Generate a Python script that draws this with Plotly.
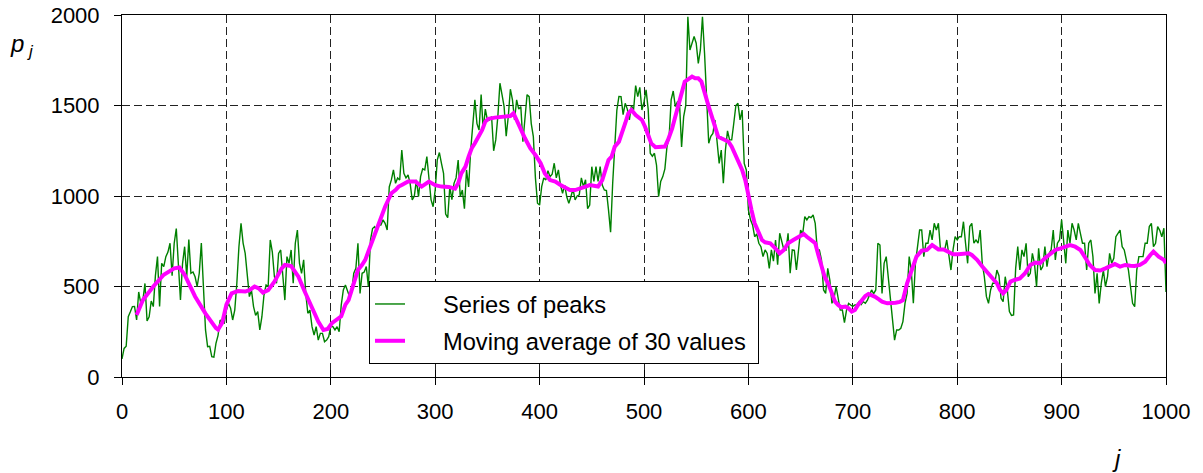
import plotly.graph_objects as go

# ---- data ----
peak_j = list(range(0, 1001, 2))
peaks = [
    # 0 .. 98
    100, 158, 170, 333, 360, 389, 390, 315, 470, 407, 425, 517, 310, 333, 420, 389, 560, 665, 390, 628,
    610, 665, 690, 739, 560, 739, 820, 628, 425, 628, 720, 554, 760, 573, 580, 554, 500, 573, 740, 499,
    260, 168, 170, 112, 110, 186, 230, 315, 300, 297,
    # 100 .. 198
    370, 407, 380, 315, 370, 518, 720, 849, 740, 683, 580, 444, 480, 389, 340, 361, 260, 333, 453, 508,
    500, 757, 690, 554, 518, 683, 702, 554, 425, 665, 628, 702, 518, 739, 812, 628, 573, 647, 462, 352,
    370, 278, 232, 278, 204, 241, 241, 195, 204, 223,
    # 200 .. 298
    280, 278, 260, 278, 250, 398, 481, 508, 470, 444, 472, 573, 600, 739, 462, 573, 580, 610, 499, 757,
    820, 831, 805, 840, 840, 868, 849, 812, 1050, 1089, 1144, 1070, 1100, 1089, 1254, 1125, 1100, 1116, 1070, 978,
    1000, 1089, 996, 1107, 1150, 1144, 1218, 1089, 980, 941,
    # 300 .. 398
    1033, 1200, 1240, 1180, 1125, 900, 880, 1052, 980, 1070, 1100, 1199, 996, 1033, 930, 1144, 1050, 1254, 1383, 1531,
    1400, 1365, 1560, 1365, 1480, 1420, 1420, 1439, 1250, 1310, 1440, 1623, 1560, 1494, 1330, 1439, 1590, 1531, 1420, 1531,
    1480, 1494, 1300, 1439, 1560, 1549, 1400, 1328, 1100, 960,
    # 400 .. 498
    950, 1052, 1100, 1089, 1140, 1107, 1120, 1181, 1100, 1144, 1060, 1015, 1060, 996, 960, 996, 1040, 978, 1000, 1006,
    1100, 1052, 1090, 930, 950, 1162, 1080, 1162, 1080, 1162, 1060, 1033, 1030, 923, 800, 1070, 1260, 1475, 1550, 1549,
    1450, 1512, 1480, 1420, 1500, 1475, 1610, 1549, 1600, 1475,
    # 500 .. 598
    1520, 1586, 1480, 1236, 1220, 1236, 1170, 996, 1080, 1107, 1150, 1273, 1320, 1531, 1580, 1494, 1520, 1512, 1271, 1439,
    1500, 1990, 1807, 1844, 1881, 1844, 1733, 1807, 1990, 1789, 1567, 1291, 1330, 1346, 1420, 1291, 1180, 1254, 1070, 1254,
    1360, 1310, 1310, 1402, 1500, 1512, 1420, 1475, 1180, 1144,
    # 600 .. 698
    923, 868, 840, 775, 790, 739, 720, 665, 702, 683, 600, 702, 640, 757, 620, 794, 739, 702, 700, 794,
    573, 702, 700, 591, 700, 812, 790, 886, 868, 886, 880, 895, 849, 702, 702, 647, 481, 462, 600, 536,
    407, 435, 500, 444, 370, 370, 300, 370, 407, 398,
    # 700 .. 798
    390, 398, 400, 416, 400, 416, 407, 425, 450, 481, 460, 481, 739, 729, 462, 628, 665, 554, 407, 297,
    204, 260, 260, 269, 306, 407, 462, 665, 591, 407, 628, 720, 812, 812, 665, 739, 739, 812, 757, 849,
    812, 849, 702, 702, 702, 757, 665, 591, 702, 775,
    # 800 .. 898
    757, 775, 775, 858, 739, 628, 831, 849, 739, 757, 739, 812, 628, 554, 444, 407, 481, 518, 518, 591,
    560, 435, 416, 554, 481, 361, 340, 343, 600, 720, 591, 702, 665, 739, 554, 573, 683, 628, 499, 711,
    591, 610, 720, 610, 683, 702, 812, 647, 739, 757,
    # 900 .. 998
    868, 739, 628, 812, 739, 849, 812, 757, 849, 794, 739, 739, 591, 739, 757, 665, 462, 573, 407, 518,
    591, 499, 554, 683, 628, 656, 775, 794, 812, 720, 702, 647, 591, 499, 407, 389, 591, 665, 665, 665,
    739, 739, 831, 849, 720, 739, 831, 810, 775, 822,
    # 1000
    470,
]

ma_j = [
    14, 20, 30, 40, 50, 55, 60, 70, 80, 85, 90, 92, 96, 100, 105, 111, 118, 122, 127, 131, 135, 140, 146, 153, 156, 162, 169,
    175, 181, 188, 193, 197, 201, 207, 210, 214, 217, 220, 223, 226, 230, 233, 236, 239, 242, 246, 249, 252, 255, 258, 262,
    265, 268, 271, 274, 281, 287, 294, 300, 306, 313, 319, 322, 325, 329, 332, 335, 338, 341, 345, 348, 351, 357, 364, 369,
    372, 375, 378, 381, 386, 391, 396, 401, 405, 410, 415, 420, 424, 429, 434, 439, 444, 448, 453, 456, 460, 463, 466, 469,
    472, 476, 479, 482, 485, 488, 492, 495, 498, 501, 504, 507, 511, 515, 520, 523, 527, 530, 533, 536, 539, 543, 546, 549,
    552, 555, 558, 562, 565, 568, 571, 574, 578, 581, 584, 587, 590, 594, 597, 600, 603, 606, 610, 613, 616, 621, 626, 630,
    634, 638, 643, 648, 653, 656, 661, 664, 667, 670, 673, 677, 680, 683, 686, 689, 693, 696, 699, 702, 705, 709, 712, 715,
    718, 721, 725, 728, 733, 737, 741, 745, 748, 752, 756, 761, 766, 771, 776, 779, 782, 787, 792, 796, 801, 806, 811, 814,
    819, 824, 828, 833, 838, 841, 844, 847, 851, 855, 860, 865, 870, 875, 879, 884, 889, 894, 899, 903, 908, 913, 918, 923,
    927, 932, 937, 942, 946, 951, 956, 961, 966, 970, 975, 980, 985, 988, 993, 998, 1000,
]
ma_values = [
    343, 425, 500, 565, 600, 605, 565, 445, 350, 305, 270, 262, 300, 400, 462, 475, 472, 480, 500, 490, 466, 480, 527, 600, 619, 613, 554,
    472, 389, 306, 260, 265, 297, 324, 335, 400, 425, 480, 536, 591, 620, 647, 693, 739, 794, 849, 904, 941, 978, 1015, 1033,
    1052, 1061, 1070, 1080, 1080, 1052, 1080, 1060, 1052, 1050, 1040, 1070, 1125, 1162, 1218, 1264, 1291, 1319, 1365, 1411, 1426, 1433, 1435, 1439,
    1442, 1457, 1420, 1374, 1319, 1264, 1227, 1181, 1125, 1088, 1080, 1061, 1046, 1033, 1033, 1040, 1052, 1060, 1052, 1052, 1088, 1144, 1199, 1218,
    1273, 1300, 1346, 1402, 1457, 1475, 1447, 1436, 1420, 1383, 1337, 1291, 1269, 1269, 1273, 1310, 1374, 1439, 1494, 1567, 1632, 1650, 1660, 1650,
    1650, 1632, 1567, 1494, 1439, 1374, 1328, 1319, 1310, 1300, 1273, 1236, 1199, 1144, 1088, 996, 922, 849, 794, 757, 744, 739, 710, 683,
    702, 739, 757, 775, 790, 775, 748, 739, 674, 610, 554, 508, 453, 416, 398, 385, 389, 379, 361, 370, 398, 425, 448, 459,
    453, 444, 429, 416, 407, 407, 410, 415, 425, 518, 591, 665, 698, 702, 729, 720, 705, 705, 693, 678, 678, 683, 683, 674,
    647, 610, 582, 554, 518, 481, 462, 480, 527, 536, 545, 573, 619, 632, 628, 656, 680, 702, 711, 720, 729, 720, 702, 656,
    619, 591, 588, 600, 613, 624, 610, 619, 615, 613, 619, 637, 674, 693, 665, 647, 628,
]

x_ticks = [0, 100, 200, 300, 400, 500, 600, 700, 800, 900, 1000]
y_ticks = [0, 500, 1000, 1500, 2000]

FONT = "Liberation Sans, Arial, sans-serif"
NB = "\u00a0"

fig = go.Figure()
fig.add_trace(go.Scatter(
    x=peak_j, y=peaks, mode="lines", name=NB * 5 + "Series of peaks",
    line=dict(color="#008000", width=1.4), xaxis="x", yaxis="y", legendgroup="a",
))
fig.add_trace(go.Scatter(
    x=ma_j, y=ma_values, mode="lines", name=NB * 5 + "Moving average of 30 values" + NB,
    line=dict(color="#FF00FF", width=4), xaxis="x2", yaxis="y", legendgroup="b",
))

grid = dict(showgrid=True, gridcolor="#222222", gridwidth=1, griddash="8px,4px")

fig.update_layout(
    width=1203, height=473,
    margin=dict(l=122, r=37, t=15, b=96, autoexpand=False),
    paper_bgcolor="white", plot_bgcolor="white",
    font=dict(family=FONT, size=22, color="black"),
    xaxis=dict(
        range=[0, 1000], tickvals=x_ticks, ticks="outside", ticklen=7, tickcolor="black",
        showline=True, linecolor="black", linewidth=1, mirror=True, zeroline=False,
        tickfont=dict(size=22), ticklabelstandoff=8, automargin=False, **grid,
    ),
    xaxis2=dict(
        matches="x", overlaying="x", anchor="y", side="bottom",
        range=[0, 1000], tickvals=x_ticks, ticks="inside", ticklen=7, tickcolor="black",
        showticklabels=False, showgrid=False, zeroline=False, showline=False, automargin=False,
    ),
    yaxis=dict(
        range=[0, 2000], tickvals=y_ticks, ticks="outside", ticklen=7, tickcolor="black",
        showline=True, linecolor="black", linewidth=1, mirror=True, zeroline=False,
        tickfont=dict(size=22), ticklabelstandoff=10, automargin=False, **grid,
    ),
    legend=dict(
        x=0.2366, y=0.265, xanchor="left", yanchor="top",
        bgcolor="white", bordercolor="black", borderwidth=1,
        font=dict(size=23.7, family=FONT), tracegroupgap=3, traceorder="grouped",
    ),
    annotations=[
        dict(text="<i>p</i><sub><i> j</i></sub>", xref="paper", yref="paper",
             x=-0.096, y=0.915, xanchor="center", yanchor="middle", showarrow=False,
             font=dict(size=24, family=FONT)),
        dict(text="<i>j</i>", xref="paper", yref="paper",
             x=0.953, y=-0.224, xanchor="center", yanchor="middle", showarrow=False,
             font=dict(size=24, family=FONT)),
    ],
)

fig.write_html("out.html")
